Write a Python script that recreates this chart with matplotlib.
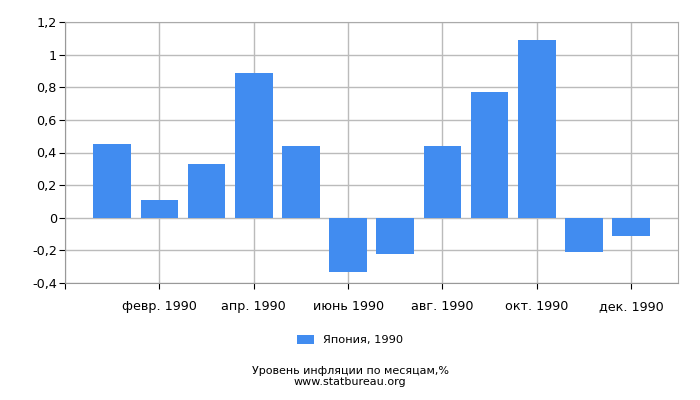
import numpy as np
import matplotlib
matplotlib.use("Agg")
import matplotlib.pyplot as plt
from matplotlib.ticker import FuncFormatter

months = ["янв. 1990", "февр. 1990", "март 1990", "апр. 1990", "май 1990", "июнь 1990",
          "июль 1990", "авг. 1990", "сент. 1990", "окт. 1990", "нояб. 1990", "дек. 1990"]
values = [0.45, 0.11, 0.33, 0.89, 0.44, -0.33, -0.22, 0.44, 0.77, 1.09, -0.21, -0.11]
series_name = "Япония, 1990"
title_lines = ["Уровень инфляции по месяцам,%", "www.statbureau.org"]

plt.rcParams["font.family"] = ["DejaVu Sans"]
fig = plt.figure(figsize=(7, 4), dpi=100)
ax = fig.add_axes([0.093, 0.2925, 0.876, 0.6525])

x = np.arange(len(values))
ax.bar(x, values, width=0.8, color="#418cf0", zorder=3, label=series_name)

ax.set_xlim(-1, len(values))
ax.set_ylim(-0.4, 1.2)
ax.set_yticks(np.arange(-0.4, 1.21, 0.2))
ax.yaxis.set_major_formatter(FuncFormatter(lambda v, p: ("%.1f" % v).rstrip("0").rstrip(".").replace(".", ",") if abs(v) > 1e-9 else "0"))

xt = [-1] + list(range(1, len(values), 2))
ax.set_xticks(xt)
ax.set_xticklabels([""] + [months[i] for i in range(1, len(values), 2)])

ax.grid(True, color="#bbbbbb", linewidth=1, zorder=0)
for s in ax.spines.values():
    s.set_color("#aaaaaa")
ax.spines["left"].set_color("#999999")
ax.spines["bottom"].set_color("#999999")
ax.tick_params(axis="both", colors="black", labelsize=9.2, length=4)
ax.tick_params(axis="x", pad=8)
ax.tick_params(axis="y", pad=2)

fig.legend(loc="center", bbox_to_anchor=(0.5, 0.15), frameon=False, fontsize=8.2,
           handlelength=1.5, handleheight=0.8)
fig.text(0.5, 0.073, title_lines[0], ha="center", va="center", fontsize=8)
fig.text(0.5, 0.045, title_lines[1], ha="center", va="center", fontsize=8)

fig.savefig("out.png", dpi=100)
